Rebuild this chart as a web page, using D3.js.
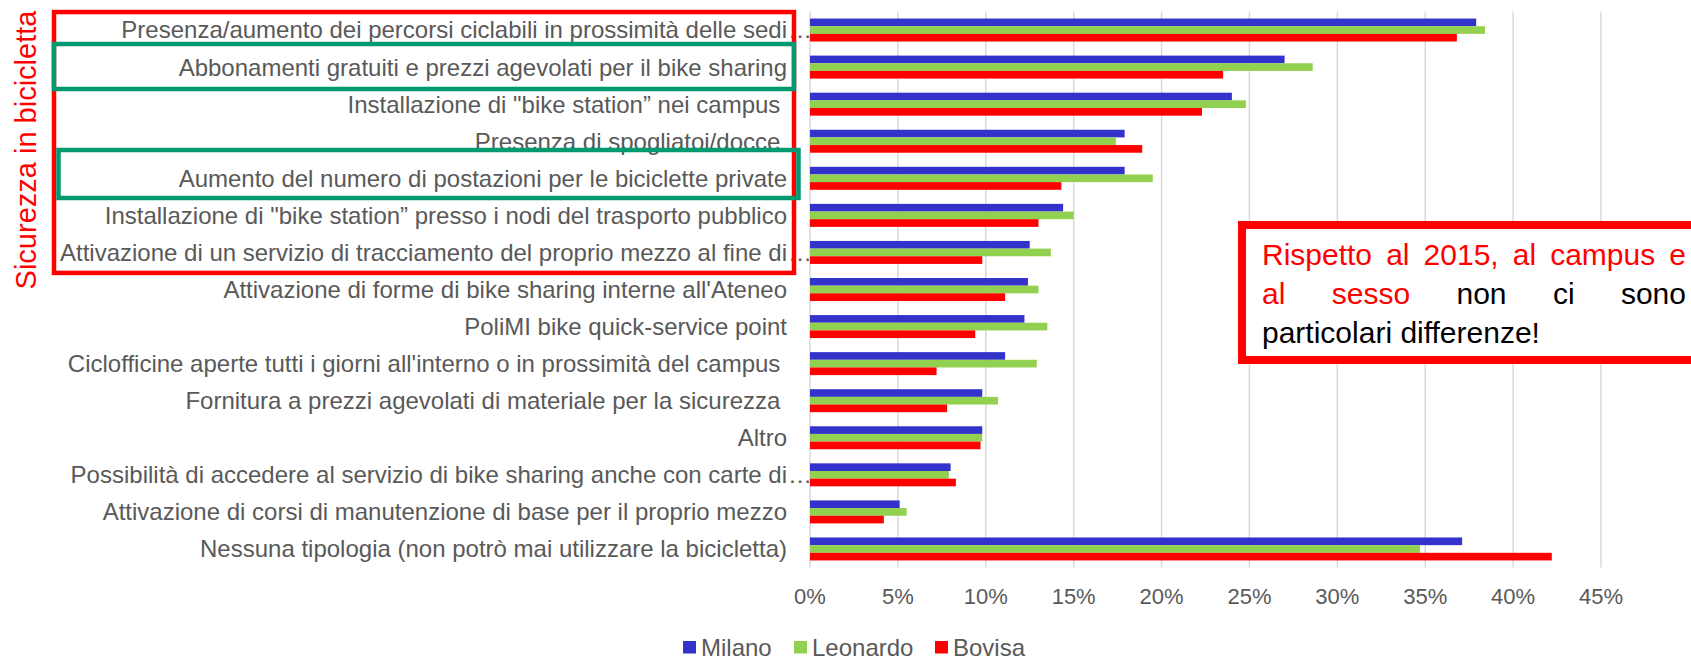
<!DOCTYPE html>
<html>
<head>
<meta charset="utf-8">
<script src="https://cdn.jsdelivr.net/npm/d3@7"></script>
<style>
  body { margin: 0; background: #fff; }
  svg { display: block; font-family: 'Liberation Sans', Arial, sans-serif; }
</style>
</head>
<body>
<div id="root"></div>
<script>
const categories = [
  'Presenza/aumento dei percorsi ciclabili in prossimità delle sedi…',
  'Abbonamenti gratuiti e prezzi agevolati per il bike sharing',
  'Installazione di "bike station” nei campus ',
  'Presenza di spogliatoi/docce ',
  'Aumento del numero di postazioni per le biciclette private',
  'Installazione di "bike station” presso i nodi del trasporto pubblico',
  'Attivazione di un servizio di tracciamento del proprio mezzo al fine di…',
  "Attivazione di forme di bike sharing interne all'Ateneo",
  'PoliMI bike quick-service point',
  "Ciclofficine aperte tutti i giorni all'interno o in prossimità del campus ",
  'Fornitura a prezzi agevolati di materiale per la sicurezza ',
  'Altro',
  'Possibilità di accedere al servizio di bike sharing anche con carte di…',
  'Attivazione di corsi di manutenzione di base per il proprio mezzo',
  'Nessuna tipologia (non potrò mai utilizzare la bicicletta)'
]

const milano   = [37.9, 27.0, 24.0, 17.9, 17.9, 14.4, 12.5, 12.4, 12.2, 11.1, 9.8, 9.8, 8.0, 5.1, 37.1]
const leonardo = [38.4, 28.6, 24.8, 17.4, 19.5, 15.0, 13.7, 13.0, 13.5, 12.9, 10.7, 9.8, 7.9, 5.5, 34.7]
const bovisa   = [36.8, 23.5, 22.3, 18.9, 14.3, 13.0, 9.8, 11.1, 9.4, 7.2, 7.8, 9.7, 8.3, 4.2, 42.2]

const seriesNames = ['Milano', 'Leonardo', 'Bovisa']
const seriesValues = [milano, leonardo, bovisa]
const seriesColors = ['#3333cc', '#92d050', '#ff0000']

const xTicks = [0, 5, 10, 15, 20, 25, 30, 35, 40, 45]

const groupTitle = 'Sicurezza in bicicletta'
// categories framed in the red group box / green highlight boxes
const groupRange = [0, 6]
const highlighted = [1, 4]

const noteLine1 = [['Rispetto', 'red'], ['al', 'red'], ['2015,', 'red'], ['al', 'red'], ['campus', 'red'], ['e', 'red']]
const noteLine2 = [['al', 'red'], ['sesso', 'red'], ['non', 'black'], ['ci', 'black'], ['sono', 'black']]
const noteLine3 = 'particolari differenze!'

// -------- chart --------
const W = 1691, H = 656
const svg = d3.select('#root').append('svg')
  .attr('width', W)
  .attr('height', H)

const x = d3.scaleLinear().domain([0, 45]).range([810, 1601])
const y = d3.scaleBand().domain(d3.range(categories.length))
  .range([11.5, 567.5])
  .paddingInner(0.38)
  .paddingOuter(0.19)
const ySeries = d3.scaleBand().domain(d3.range(seriesNames.length)).range([0, y.bandwidth()])

const grey = '#595959'

// gridlines
svg.append('g')
  .selectAll('line')
  .data(xTicks)
  .join('line')
  .attr('x1', d => x(d))
  .attr('x2', d => x(d))
  .attr('y1', 11.5)
  .attr('y2', 567.5)
  .attr('stroke', '#d9d9d9')
  .attr('stroke-width', 1.5)

// bars
const groups = svg.append('g')
  .selectAll('g')
  .data(categories)
  .join('g')
  .attr('transform', (d, i) => `translate(0,${y(i)})`)

groups.selectAll('rect')
  .data((d, i) => seriesValues.map((vals, s) => ({ s, v: vals[i] })))
  .join('rect')
  .attr('x', x(0))
  .attr('y', d => ySeries(d.s))
  .attr('width', d => x(d.v) - x(0))
  .attr('height', ySeries.bandwidth())
  .attr('fill', d => seriesColors[d.s])

// x tick labels
svg.append('g')
  .selectAll('text')
  .data(xTicks)
  .join('text')
  .attr('x', d => x(d))
  .attr('y', 604)
  .attr('text-anchor', 'middle')
  .attr('fill', grey)
  .style('font-size', '22px')
  .text(d => d + '%')

// category labels
const labelEnd = x(0) - 23
const labels = svg.append('g')
  .selectAll('g')
  .data(categories)
  .join('g')
  .attr('transform', (d, i) => `translate(0,${y(i) + y.bandwidth() / 2})`)

labels.append('text')
  .attr('x', labelEnd)
  .attr('dy', '0.35em')
  .attr('text-anchor', 'end')
  .attr('xml:space', 'preserve')
  .style('white-space', 'pre')
  .attr('fill', grey)
  .style('font-size', '24px')
  .text(d => d.replace('…', ''))

labels.filter(d => d.endsWith('…'))
  .append('text')
  .attr('x', labelEnd + 1)
  .attr('dy', '0.35em')
  .attr('fill', grey)
  .style('font-size', '24px')
  .text('…')

// red group frame
svg.append('rect')
  .attr('x', 54)
  .attr('y', y(groupRange[0]) - 6.5)
  .attr('width', 740)
  .attr('height', y(groupRange[1]) + y.bandwidth() + 9 - (y(groupRange[0]) - 6.5))
  .attr('fill', 'none')
  .attr('stroke', '#ff0000')
  .attr('stroke-width', 4.5)

// green highlight boxes
svg.append('g')
  .selectAll('rect')
  .data(highlighted)
  .join('rect')
  .attr('x', (d, i) => i === 0 ? 54 : 58.5)
  .attr('y', (d, i) => y(d) - (i === 0 ? 11.6 : 16.8))
  .attr('width', 740)
  .attr('height', (d, i) => y.bandwidth() + (i === 0 ? 22 : 25))
  .attr('fill', 'none')
  .attr('stroke', '#009970')
  .attr('stroke-width', 4.5)

// vertical group title
svg.append('text')
  .attr('transform', 'translate(36,150) rotate(-90)')
  .attr('text-anchor', 'middle')
  .attr('fill', '#ff0000')
  .style('font-size', '29px')
  .text(groupTitle)

// note box
svg.append('rect')
  .attr('x', 1242)
  .attr('y', 225)
  .attr('width', 520)
  .attr('height', 135)
  .attr('fill', '#fff')
  .attr('stroke', '#ff0000')
  .attr('stroke-width', 8)

const note = svg.append('g').style('font-size', '30px')

function justify(words, left, right, baseline) {
  const t = note.selectAll(null)
    .data(words)
    .enter()
    .append('text')
    .attr('y', baseline)
    .attr('fill', d => d[1] === 'red' ? '#ff0000' : '#000')
    .text(d => d[0])
  const widths = t.nodes().map(n => n.getComputedTextLength())
  const gap = (right - left - d3.sum(widths)) / (words.length - 1)
  let cx = left
  t.attr('x', (d, i) => {
    const pos = cx
    cx += widths[i] + gap
    return pos
  })
}

justify(noteLine1, 1262, 1686, 265)
justify(noteLine2, 1262, 1686, 304)
note.append('text')
  .attr('x', 1262)
  .attr('y', 343)
  .attr('fill', '#000')
  .text(noteLine3)

// legend
const legendX = [683, 794, 935]
const legend = svg.append('g')
  .selectAll('g')
  .data(seriesNames)
  .join('g')
  .attr('transform', (d, i) => `translate(${legendX[i]},641)`)

legend.append('rect')
  .attr('width', 13)
  .attr('height', 12.5)
  .attr('fill', (d, i) => seriesColors[i])

legend.append('text')
  .attr('x', 18)
  .attr('y', 15)
  .attr('fill', grey)
  .style('font-size', '24px')
  .text(d => d)
</script>
</body>
</html>
